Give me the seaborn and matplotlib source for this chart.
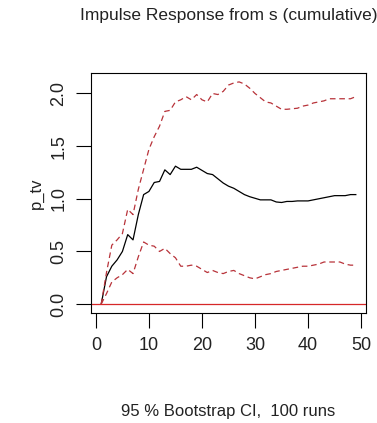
import numpy as np
import pandas as pd
import matplotlib
matplotlib.use("Agg")
import matplotlib.pyplot as plt
import seaborn as sns

steps = list(range(1, 50))
irf = [0.0, 0.26, 0.36, 0.42, 0.50, 0.66, 0.61, 0.85, 1.04, 1.07,
       1.155, 1.165, 1.275, 1.23, 1.31, 1.28, 1.28, 1.28, 1.30, 1.27,
       1.24, 1.23, 1.19, 1.15, 1.12, 1.10, 1.07, 1.04, 1.02, 1.005,
       0.99, 0.99, 0.99, 0.97, 0.965, 0.975, 0.975, 0.98, 0.98, 0.98,
       0.99, 1.00, 1.01, 1.02, 1.03, 1.03, 1.03, 1.04, 1.04]
upper = [0.0, 0.30, 0.56, 0.61, 0.67, 0.90, 0.85, 1.09, 1.28, 1.47,
         1.59, 1.69, 1.83, 1.84, 1.92, 1.94, 1.97, 1.94, 1.99, 1.94,
         1.92, 2.00, 1.99, 2.02, 2.08, 2.10, 2.11, 2.09, 2.05, 2.00,
         1.96, 1.92, 1.91, 1.88, 1.85, 1.85, 1.855, 1.86, 1.88, 1.89,
         1.91, 1.92, 1.93, 1.95, 1.95, 1.95, 1.95, 1.95, 1.97]
lower = [0.0, 0.10, 0.21, 0.25, 0.28, 0.33, 0.29, 0.45, 0.59, 0.56,
         0.55, 0.50, 0.53, 0.48, 0.44, 0.36, 0.36, 0.37, 0.36, 0.33,
         0.30, 0.32, 0.30, 0.29, 0.31, 0.32, 0.29, 0.27, 0.25, 0.24,
         0.26, 0.28, 0.29, 0.31, 0.32, 0.33, 0.34, 0.35, 0.36, 0.36,
         0.37, 0.38, 0.40, 0.40, 0.40, 0.40, 0.38, 0.37, 0.37]
x_ticks = [0, 10, 20, 30, 40, 50]
y_ticks = [0.0, 0.5, 1.0, 1.5, 2.0]

df = pd.DataFrame({"step": steps, "irf": irf, "upper": upper, "lower": lower})

plt.rcParams['font.family'] = ['Liberation Sans', 'DejaVu Sans']
fig = plt.figure(figsize=(3.77, 4.23), dpi=100)
ax = fig.add_axes([0.2414, 0.260, 0.7294, 0.5674])

sns.lineplot(data=df, x="step", y="irf", ax=ax, color="black", linewidth=0.9)
sns.lineplot(data=df, x="step", y="upper", ax=ax, color="#b8333a", linewidth=0.9,
             linestyle=(0, (4.5, 3)))
sns.lineplot(data=df, x="step", y="lower", ax=ax, color="#b8333a", linewidth=0.9,
             linestyle=(0, (4.5, 3)))
ax.axhline(0, color="#d62728", linewidth=0.9)

ymax = max(upper)
ymin = min(lower)
rng = ymax - ymin
ax.set_ylim(ymin - 0.04 * rng, ymax + 0.04 * rng)
ax.set_xlim(1 - 0.04 * 48, 49 + 0.04 * 48)
ax.set_xticks(x_ticks)
ax.set_yticks(y_ticks)
ax.set_xticklabels([str(t) for t in x_ticks])
ax.set_yticklabels([f"{t:.1f}" for t in y_ticks], rotation=90, va="center")
ax.tick_params(axis="both", direction="out", length=11, width=0.8, labelsize=13,
               color="black", labelcolor="#222222", pad=6)
for s in ax.spines.values():
    s.set_color("black")
    s.set_linewidth(0.8)

ax.set_xlabel("95 % Bootstrap CI,  100 runs", fontsize=12, color="#222222", labelpad=36)
ax.set_ylabel("p_tv", fontsize=12, color="#222222", labelpad=5)
ax.set_title("Impulse Response from s (cumulative)", fontsize=12.5, color="#222222", pad=38)

fig.savefig("out.png", dpi=100, facecolor="white")
